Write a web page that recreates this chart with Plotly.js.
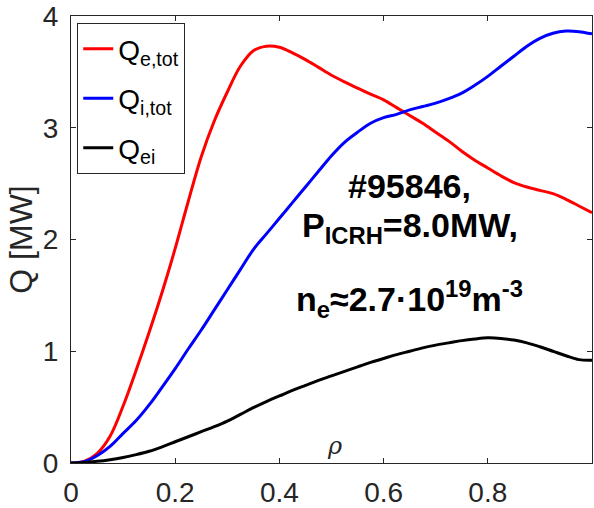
<!DOCTYPE html>
<html>
<head>
<meta charset="utf-8">
<script src="https://cdn.plot.ly/plotly-3.0.1.min.js"></script>
<style>html,body{margin:0;padding:0;background:#fff;}#chart{width:594px;height:508px;}</style>
</head>
<body>
<div id="chart"></div>
<script>
// rho grid and series values
const rho = [0, 0.025, 0.05, 0.075, 0.1, 0.125, 0.15, 0.175, 0.2, 0.225, 0.25, 0.275, 0.3, 0.325, 0.35, 0.375, 0.4, 0.425, 0.45, 0.475, 0.5, 0.525, 0.55, 0.575, 0.6, 0.625, 0.65, 0.675, 0.7, 0.725, 0.75, 0.775, 0.8, 0.825, 0.85, 0.875, 0.9, 0.925, 0.95, 0.975, 1.0];
const qEtot = [0, 0.015, 0.085, 0.24, 0.51, 0.83, 1.17, 1.53, 1.92, 2.34, 2.74, 3.06, 3.32, 3.55, 3.69, 3.73, 3.72, 3.67, 3.61, 3.54, 3.47, 3.41, 3.355, 3.30, 3.25, 3.18, 3.11, 3.04, 2.96, 2.88, 2.79, 2.71, 2.64, 2.57, 2.51, 2.47, 2.44, 2.41, 2.36, 2.30, 2.24];
const qItot = [0, 0.012, 0.065, 0.148, 0.265, 0.38, 0.52, 0.68, 0.845, 1.02, 1.19, 1.37, 1.55, 1.73, 1.91, 2.05, 2.19, 2.33, 2.47, 2.61, 2.75, 2.87, 2.96, 3.04, 3.09, 3.12, 3.16, 3.19, 3.22, 3.26, 3.31, 3.38, 3.46, 3.55, 3.64, 3.73, 3.80, 3.845, 3.865, 3.86, 3.84];
const qEI = [0, 0.005, 0.015, 0.03, 0.05, 0.075, 0.105, 0.145, 0.19, 0.235, 0.28, 0.325, 0.375, 0.435, 0.495, 0.55, 0.60, 0.65, 0.695, 0.74, 0.78, 0.82, 0.86, 0.90, 0.935, 0.97, 1.0, 1.03, 1.055, 1.075, 1.095, 1.11, 1.12, 1.115, 1.10, 1.075, 1.04, 1.0, 0.96, 0.925, 0.92];
const names = ['Q<sub>e,tot</sub>', 'Q<sub>i,tot</sub>', 'Q<sub>ei</sub>'];
const colors = ['#ff0000', '#0000ff', '#000000'];
const xTicks = [0, 0.2, 0.4, 0.6, 0.8, 1];
const yTicks = [0, 1, 2, 3, 4];
const infoLines = ['#95846,', 'P<sub>ICRH</sub>=8.0MW,', 'n<sub>e</sub>≈2.7·10<sup>19</sup>m<sup>-3</sup>'];

const ys = [qEtot, qItot, qEI];
const traces = ys.map((y, i) => ({
  x: rho, y: y, type: 'scatter', mode: 'lines', name: names[i],
  line: {color: colors[i], width: 3, shape: 'spline', smoothing: 1},
  legendgroup: 'g' + i
}));

const axisCol = '#262626';
const font = 'Liberation Sans, Arial, sans-serif';
const layout = {
  width: 594, height: 508,
  margin: {l: 71, r: 2, t: 16, b: 45},
  paper_bgcolor: '#fff', plot_bgcolor: '#fff',
  showlegend: true,
  legend: {
    x: 0.012, y: 0.984, xanchor: 'left', yanchor: 'top',
    bgcolor: '#fff', bordercolor: axisCol, borderwidth: 1,
    font: {family: font, size: 28, color: '#000'},
    tracegroupgap: 10, traceorder: 'grouped'
  },
  xaxis: {
    range: [0, 1], tickvals: xTicks, ticktext: xTicks.map(String),
    ticks: 'inside', ticklen: 5, tickcolor: axisCol, tickwidth: 1,
    showline: true, linecolor: axisCol, linewidth: 1, mirror: 'ticks',
    showgrid: false, zeroline: false,
    tickfont: {family: font, size: 28, color: axisCol},
    ticklabelstandoff: 4
  },
  yaxis: {
    range: [0, 4], tickvals: yTicks, ticktext: yTicks.map(String),
    ticks: 'inside', ticklen: 5, tickcolor: axisCol, tickwidth: 1,
    showline: true, linecolor: axisCol, linewidth: 1, mirror: 'ticks',
    showgrid: false, zeroline: false,
    tickfont: {family: font, size: 28, color: axisCol},
    ticklabelstandoff: 6,
    title: {text: 'Q [MW]', font: {family: font, size: 32, color: axisCol}, standoff: 0}
  },
  annotations: [
    {xref: 'paper', yref: 'y', x: 0.65, y: 2.48, text: '<b>' + infoLines[0] + '</b>', showarrow: false, xanchor: 'center', yanchor: 'middle', font: {family: font, size: 34, color: '#000'}},
    {xref: 'paper', yref: 'y', x: 0.65, y: 2.11, text: '<b>' + infoLines[1] + '</b>', showarrow: false, xanchor: 'center', yanchor: 'middle', font: {family: font, size: 34, color: '#000'}},
    {xref: 'paper', yref: 'y', x: 0.65, y: 1.47, text: '<b>' + infoLines[2] + '</b>', showarrow: false, xanchor: 'center', yanchor: 'middle', font: {family: font, size: 34, color: '#000'}},
    {xref: 'paper', yref: 'y', x: 0.506, y: 0.155, text: '<i>ρ</i>', showarrow: false, xanchor: 'center', yanchor: 'middle', font: {family: 'DejaVu Serif, serif', size: 24, color: axisCol}}
  ]
};
Plotly.newPlot('chart', traces, layout, {displayModeBar: false, staticPlot: true});
</script>
</body>
</html>
